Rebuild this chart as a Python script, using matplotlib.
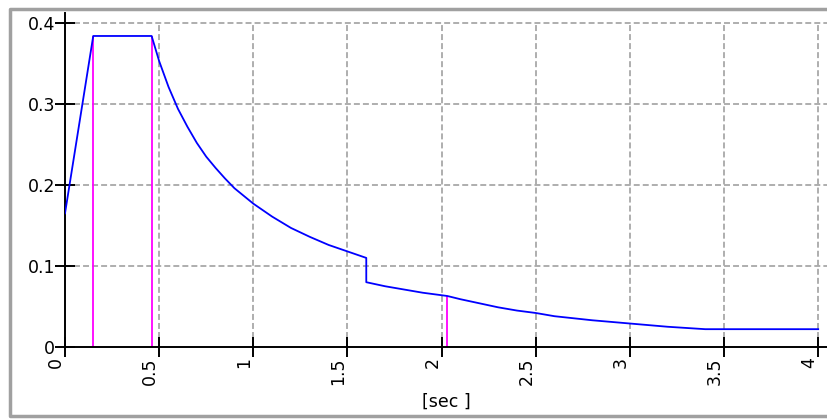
import matplotlib
matplotlib.use('Agg')
import matplotlib.pyplot as plt
from matplotlib.lines import Line2D

plt.rcParams['font.family'] = ['DejaVu Sans']

# spectrum (period [sec], value)
period = [0.0, 0.15, 0.46, 0.5, 0.55, 0.6, 0.65, 0.7, 0.75, 0.8, 0.85, 0.9, 1.0, 1.1,
          1.2, 1.3, 1.4, 1.5, 1.6,
          1.6, 1.7, 1.8, 1.9, 2.03, 2.1, 2.2, 2.3, 2.4, 2.5, 2.6, 2.8, 3.0, 3.2, 3.4,
          3.6, 3.8, 4.0]
spec = [0.165, 0.384, 0.384, 0.353, 0.321, 0.294, 0.272, 0.252, 0.235, 0.221, 0.208,
        0.196, 0.177, 0.161, 0.147, 0.136, 0.126, 0.118, 0.110,
        0.080, 0.075, 0.071, 0.067, 0.063, 0.059, 0.054, 0.049, 0.045, 0.042, 0.038,
        0.033, 0.029, 0.025, 0.022, 0.022, 0.022, 0.022]

# corner periods marked in magenta
mark_t = [0.15, 0.46, 2.03]
mark_v = [0.384, 0.384, 0.063]

xticks = [0, 0.5, 1, 1.5, 2, 2.5, 3, 3.5, 4]
xlabels = ['0', '0.5', '1', '1.5', '2', '2.5', '3', '3.5', '4']
yticks = [0, 0.1, 0.2, 0.3, 0.4]
ylabels = ['0', '0.1', '0.2', '0.3', '0.4']

W, H = 828, 419
fig = plt.figure(figsize=(W / 100, H / 100), dpi=100)

# window frame: left, top and bottom edges only
fx = [W + 5, 10, 10, W + 5]
fy = [H - 9, H - 9, 3, 3]
fig.add_artist(Line2D([v / W for v in fx], [v / H for v in fy], transform=fig.transFigure,
                      color='#a0a0a0', linewidth=2.5))

ax = fig.add_axes([65 / W, 72 / H, 762.6 / W, 333.7 / H])
ax.set_xlim(0, 4.05)
ax.set_ylim(0, 0.412)

for s in ['top', 'right']:
    ax.spines[s].set_visible(False)
for s in ['left', 'bottom']:
    ax.spines[s].set_color('black')
    ax.spines[s].set_linewidth(1.4)

# dashed grid
dash = (0, (3.3, 1.7))
for t in xticks[1:]:
    ax.axvline(t, ymax=0.4 / 0.412, color='#a8a8a8', linewidth=1.3, linestyle=dash, zorder=1)
for t in yticks[1:]:
    ax.axhline(t, color='#a8a8a8', linewidth=1.3, linestyle=dash, zorder=1)

ax.vlines(mark_t, 0, mark_v, color='#ff00ff', linewidth=1.3, zorder=2)
ax.plot(period, spec, color='#0000ff', linewidth=1.3, zorder=3)

ax.set_xticks(xticks)
ax.set_xticklabels(xlabels, rotation=90, ha='right', va='top')
ax.set_yticks(yticks)
ax.set_yticklabels(ylabels)
ax.tick_params(direction='inout', length=14.4, width=1.4, labelsize=12.5, colors='black', pad=0)

ax.set_xlabel('[sec ]', fontsize=12.5, labelpad=6)

fig.savefig('out.png', dpi=100)
